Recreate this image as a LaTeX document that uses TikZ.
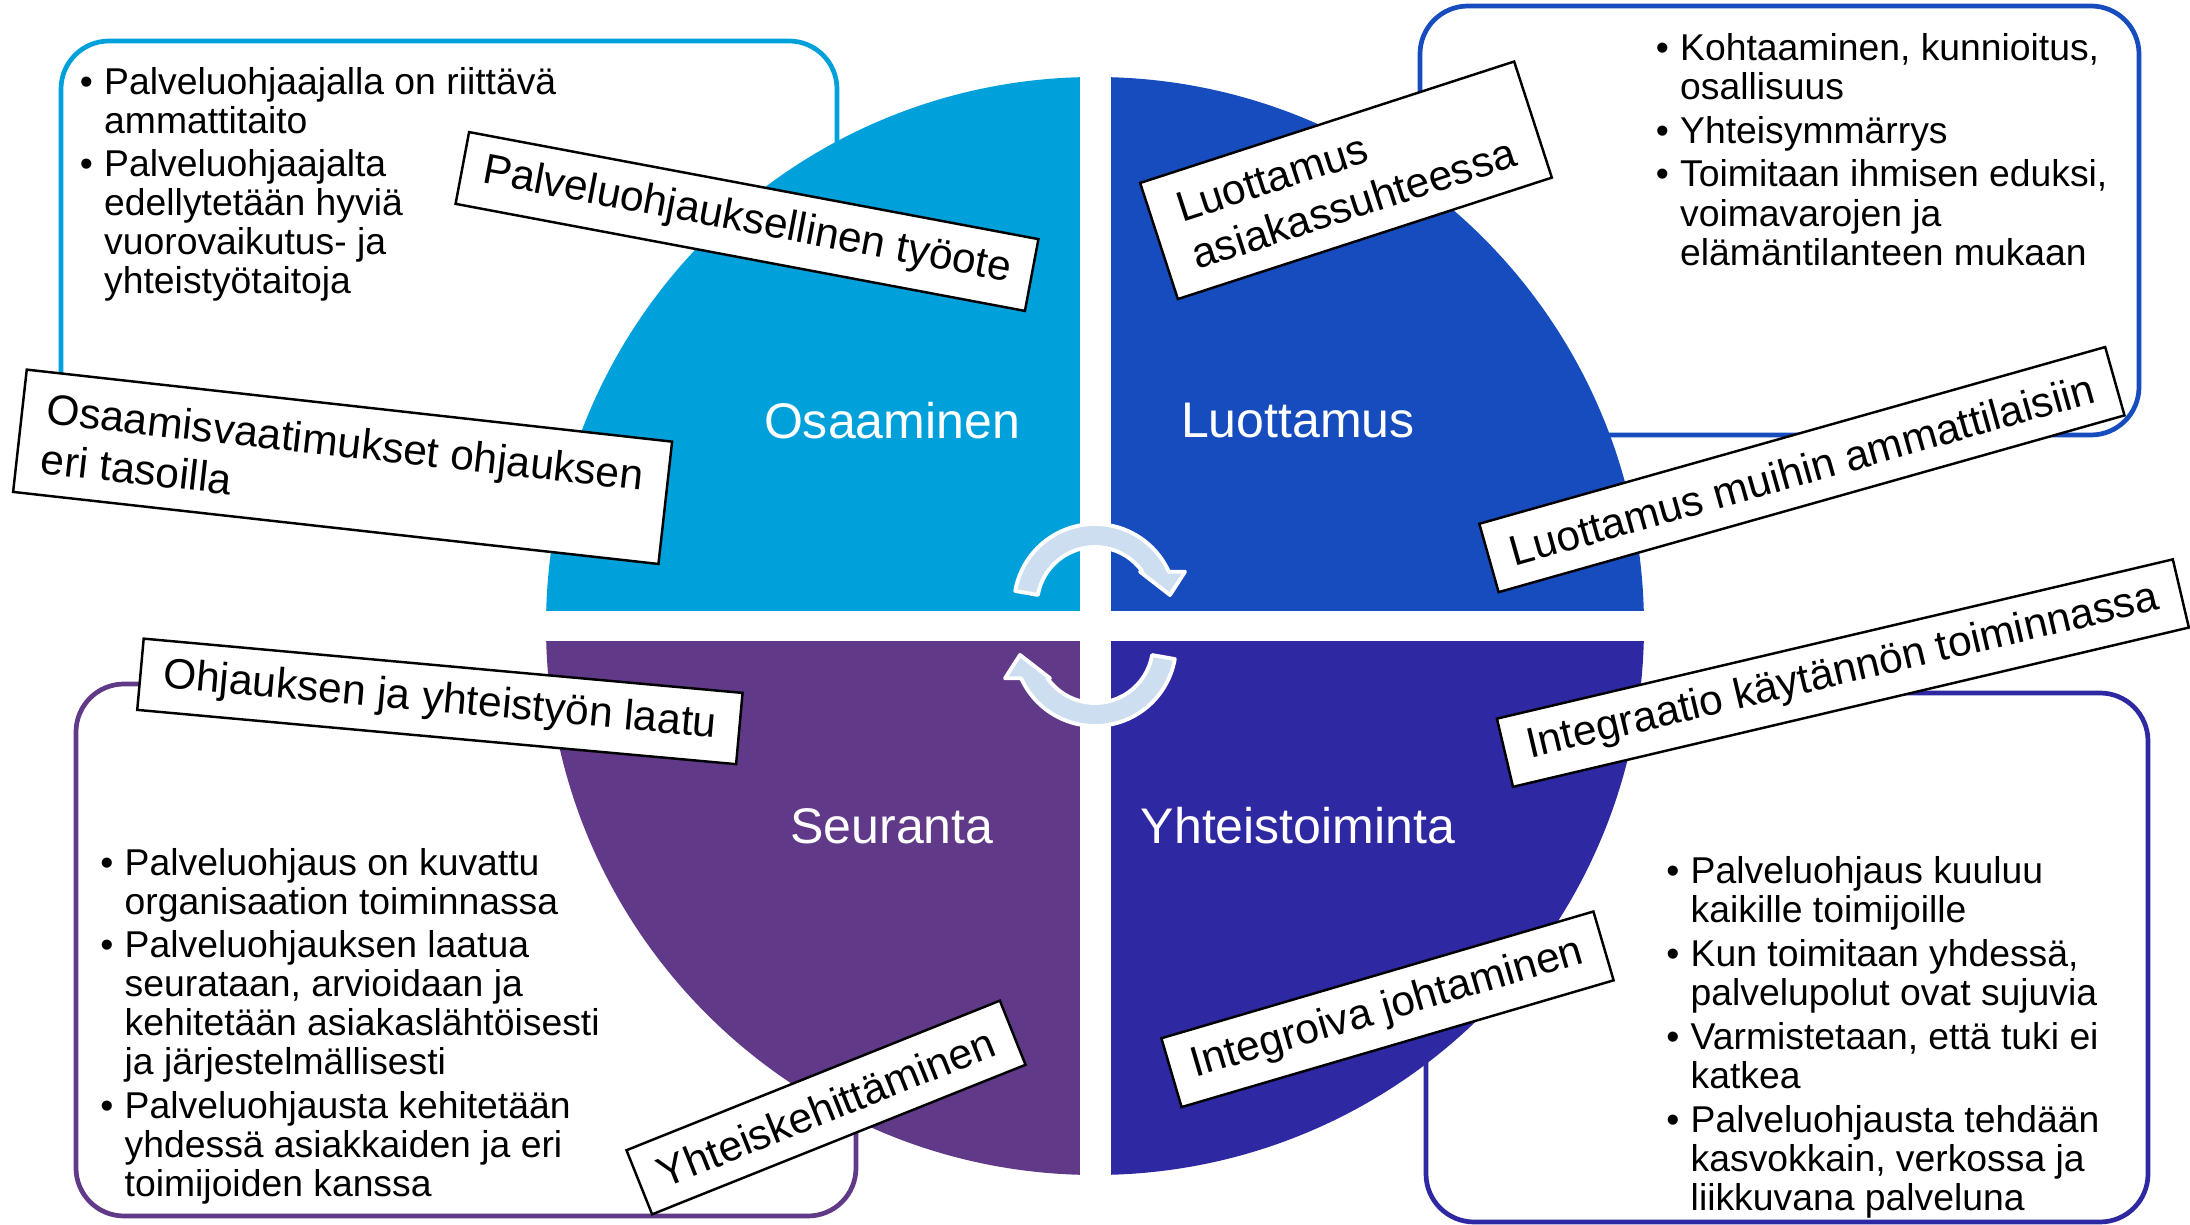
\documentclass[tikz,border=0pt]{standalone}
\usepackage{fontspec}
\setmainfont{Liberation Sans}
\definecolor{qA}{HTML}{00A0DA}
\definecolor{qB}{HTML}{164CBE}
\definecolor{qC}{HTML}{613989}
\definecolor{qD}{HTML}{2E28A2}
\definecolor{arrowc}{HTML}{CCDEF0}
\newcommand{\bul}{\llap{\textbullet\hspace{0.3em}}}
\begin{document}
\begin{tikzpicture}[x=0.01cm,y=-0.01cm,
  infobox/.style={rounded corners=0.48cm, line width=1.34pt},
  tag/.style={draw=black, line width=0.7pt, fill=white, inner sep=0pt, align=left,
    font=\fontsize{12.09}{14.2}\selectfont, text=black},
  quadlbl/.style={text=white, inner sep=0pt, font=\fontsize{14.23}{17}\selectfont},
  bullets/.style={anchor=north west, inner sep=0pt, align=left, text=black,
    font=\fontsize{10.61}{11.1}\selectfont},
  cyclearrow/.style={fill=arrowc, draw=white, line width=1.1pt, line join=round}]
\useasboundingbox (0,0) rectangle (2190,1225);

% rounded information boxes (behind the circle)
\draw[infobox, draw=qA] (61,41) rectangle (837,460);
\draw[infobox, draw=qB] (1420,6) rectangle (2139,435);
\draw[infobox, draw=qC] (76,684) rectangle (856,1216);
\draw[infobox, draw=qD] (1426,693) rectangle (2148,1222);

% circle quadrants
\coordinate (cc) at (1095,626);
\fill[qA] (cc) -- (546,626) arc[start angle=180, end angle=270, radius=549] -- cycle;
\fill[qB] (cc) -- (1095,77) arc[start angle=270, end angle=360, radius=549] -- cycle;
\fill[qD] (cc) -- (1644,626) arc[start angle=0, end angle=90, radius=549] -- cycle;
\fill[qC] (cc) -- (1095,1175) arc[start angle=90, end angle=180, radius=549] -- cycle;
% white cross
\fill[white] (1080,60) rectangle (1110.5,1190);
\fill[white] (530,610.7) rectangle (1660,641);

% cycle arrows
\coordinate (cT) at (1095,605);
\coordinate (cB) at (1095,645);
\begin{scope}[shift={(cT)}, x=0.01cm, y=0.01cm]
  \filldraw[cyclearrow] (170:81) arc[start angle=170, end angle=24.27, radius=81]
    -- (90,33.3) -- (75,10) -- (45,33.3) -- (35.05:58)
    arc[start angle=35.05, end angle=170, radius=58] -- cycle;
\end{scope}
\begin{scope}[shift={(cB)}, x=0.01cm, y=0.01cm, rotate=180]
  \filldraw[cyclearrow] (170:81) arc[start angle=170, end angle=24.27, radius=81]
    -- (90,33.3) -- (75,10) -- (45,33.3) -- (35.05:58)
    arc[start angle=35.05, end angle=170, radius=58] -- cycle;
\end{scope}

% quadrant labels
\node[quadlbl] (qa) at (892,421) {Osaaminen};
\node[quadlbl] (qb) at (1298,421) {Luottamus};
\node[quadlbl] (qc) at (892,826) {Seuranta};
\node[quadlbl] (qd) at (1298,826) {Yhteistoiminta};

% bullet texts
\node[bullets] (ta) at (103.5,66.3) {\bul Palveluohjaajalla on riittävä\\ammattitaito\\[1.2pt]
  \bul Palveluohjaajalta\\edellytetään hyviä\\vuorovaikutus- ja\\yhteistyötaitoja};
\node[bullets] (tb) at (1679.5,32.3) {\bul Kohtaaminen, kunnioitus,\\osallisuus\\[1.4pt]
  \bul Yhteisymmärrys\\[1.4pt]
  \bul Toimitaan ihmisen eduksi,\\voimavarojen ja\\elämäntilanteen mukaan};
\node[bullets] (tc) at (124,847.3) {\bul Palveluohjaus on kuvattu\\organisaation toiminnassa\\[1.3pt]
  \bul Palveluohjauksen laatua\\seurataan, arvioidaan ja\\kehitetään asiakaslähtöisesti\\ja järjestelmällisesti\\[1.3pt]
  \bul Palveluohjausta kehitetään\\yhdessä asiakkaiden ja eri\\toimijoiden kanssa};
\node[bullets] (td) at (1690,855.3) {\bul Palveluohjaus kuuluu\\kaikille toimijoille\\[1.4pt]
  \bul Kun toimitaan yhdessä,\\palvelupolut ovat sujuvia\\[1.4pt]
  \bul Varmistetaan, että tuki ei\\katkea\\[1.4pt]
  \bul Palveluohjausta tehdään\\kasvokkain, verkossa ja\\liikkuvana palveluna};

% tilted tags
\node[tag, rotate=-10.65, minimum width=5.79cm, minimum height=0.73cm] (l1) at (747,221.5) {Palveluohjauksellinen työote};
\node[tag, rotate=-6.37, minimum width=6.49cm, minimum height=1.23cm] (l2) at (342.6,466.8) {Osaamisvaatimukset ohjauksen\\eri tasoilla};
\node[tag, rotate=17.99, minimum width=3.93cm, minimum height=1.22cm] (l3) at (1346,180.3) {Luottamus\\asiakassuhteessa};
\node[tag, rotate=15.77, minimum width=6.50cm, minimum height=0.71cm] (l4) at (1801.9,469.6) {Luottamus muihin ammattilaisiin};
\node[tag, rotate=13.26, minimum width=6.94cm, minimum height=0.70cm] (l5) at (1842.9,673.1) {Integraatio käytännön toiminnassa};
\node[tag, rotate=-5.18, minimum width=6.01cm, minimum height=0.715cm] (l6) at (439.9,701.4) {Ohjauksen ja yhteistyön laatu};
\node[tag, rotate=21.83, minimum width=4.02cm, minimum height=0.69cm] (l7) at (826,1107.5) {Yhteiskehittäminen};
\node[tag, rotate=16.35, minimum width=4.50cm, minimum height=0.717cm] (l8) at (1387.5,1009.3) {Integroiva johtaminen};
\end{tikzpicture}
\end{document}
